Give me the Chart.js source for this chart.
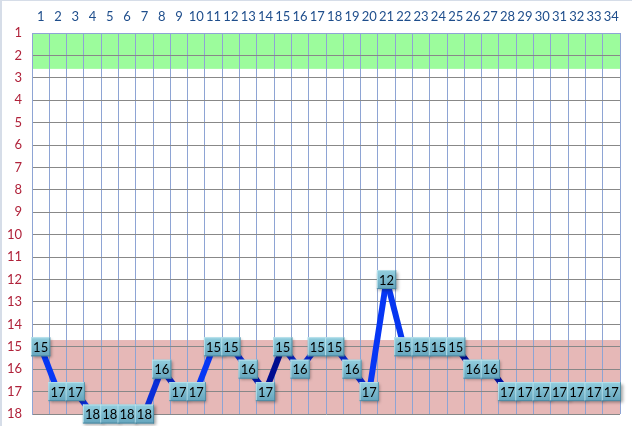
<!DOCTYPE html>
<html>
<head>
<meta charset="utf-8">
<script src="https://cdn.jsdelivr.net/npm/chart.js@4"></script>
<style>
html,body{margin:0;padding:0;background:#fff;}
#wrap{width:632px;height:426px;position:relative;}
</style>
</head>
<body>
<div id="wrap"><canvas id="c" width="632" height="426"></canvas></div>
<script>
// ---- data ----
const categories = ["1","2","3","4","5","6","7","8","9","10","11","12","13","14","15","16","17","18","19","20","21","22","23","24","25","26","27","28","29","30","31","32","33","34"];
const values = [15,17,17,18,18,18,18,16,17,17,15,15,16,17,15,16,15,15,16,17,12,15,15,15,15,16,16,17,17,17,17,17,17,17];
const yTicks = [1,2,3,4,5,6,7,8,9,10,11,12,13,14,15,16,17,18];
const greenBand = [1, 2.6];
const pinkBand = [14.7, 18];

// ---- styles ----
const segColors = ["#0636f5","#0a2fd8","#0a2ee0","#0a2fd8","#0a2fd8","#0a2fd8","#0a2ed8","#0a26c4","#0a2fd8","#0636f5","#0a2fd8","#0a28cc","#0018b0","#000c90","#0a24c0","#0a26c8","#0a2fd8","#0a2ad0","#0a28cc","#0636f5","#0636f0","#0a2fd8","#0a2fd8","#0a2fd8","#000e98","#0a2fd8","#0012a4","#0a2fd8","#0a2fd8","#0a2fd8","#0a2fd8","#0a2fd8","#0a2fd8"];

const bandsPlugin = {
  id: 'bands',
  beforeDraw(chart) {
    const {ctx, chartArea: a, scales: {y}} = chart;
    ctx.save();
    ctx.fillStyle = '#d6dde8';
    ctx.fillRect(0, 0, 2, chart.height);
    ctx.fillRect(0, 0, chart.width, 1);
    const draw = (band, color) => {
      const y1 = y.getPixelForValue(band[0]);
      const y2 = y.getPixelForValue(band[1]);
      ctx.fillStyle = color;
      ctx.fillRect(a.left, Math.min(y1, y2), a.right - a.left, Math.abs(y2 - y1));
    };
    draw(greenBand, '#9cfc9c');
    draw(pinkBand, '#e6b8b7');
    ctx.restore();
  }
};

const labelsPlugin = {
  id: 'boxLabels',
  afterDatasetsDraw(chart) {
    const {ctx} = chart;
    const meta = chart.getDatasetMeta(0);
    const x = chart.scales.x;
    const bw = (x.right - x.left) / categories.length + 2;
    const bh = 19;
    ctx.save();
    meta.data.forEach((pt, i) => {
      const cx = pt.x, cy = pt.y;
      const l = cx - bw / 2, t = cy - bh / 2;
      ctx.save();
      ctx.shadowColor = 'rgba(0,0,0,0.35)';
      ctx.shadowBlur = 3;
      ctx.shadowOffsetX = 1.5;
      ctx.shadowOffsetY = 1.5;
      const g = ctx.createLinearGradient(0, t, 0, t + bh);
      g.addColorStop(0, '#93cfdf');
      g.addColorStop(1, '#65a5bd');
      ctx.fillStyle = g;
      ctx.fillRect(l, t, bw, bh);
      ctx.restore();
      ctx.fillStyle = 'rgba(190,230,240,0.8)';
      ctx.fillRect(l, t, bw, 1);
      ctx.fillRect(l, t, 1, bh);
      ctx.fillStyle = 'rgba(70,130,155,0.8)';
      ctx.fillRect(l + bw - 1, t, 1, bh);
      ctx.fillRect(l, t + bh - 1, bw, 1);
      ctx.fillStyle = '#000';
      ctx.font = '13px Lato, "Liberation Sans", sans-serif';
      ctx.textAlign = 'center';
      ctx.textBaseline = 'middle';
      ctx.fillText(String(values[i]), cx, cy + 1);
    });
    ctx.restore();
  }
};

new Chart(document.getElementById('c'), {
  type: 'line',
  data: {
    labels: categories,
    datasets: [{
      data: values,
      borderColor: '#0a2fd8',
      borderWidth: 6,
      pointRadius: 0,
      tension: 0,
      clip: false,
      segment: { borderColor: c => segColors[c.p0DataIndex] }
    }]
  },
  options: {
    responsive: false,
    animation: false,
    devicePixelRatio: 1,
    layout: { padding: { left: 0, right: 12, top: 0, bottom: 12 } },
    plugins: { legend: { display: false }, tooltip: { enabled: false } },
    scales: {
      x: {
        type: 'category',
        position: 'top',
        offset: true,
        grid: { offset: true, color: '#8ea4d4', lineWidth: 1, drawTicks: false },
        border: { display: true, color: '#8ea4d4' },
        ticks: { color: '#1f4e8c', font: { family: 'Lato, "Liberation Sans", sans-serif', size: 13 }, padding: 8, maxRotation: 0, autoSkip: false },
        afterFit: s => { s.height = 33; s.paddingLeft = 0; s.paddingRight = 0; }
      },
      y: {
        reverse: true,
        min: 1,
        max: 18,
        afterBuildTicks: s => { s.ticks = yTicks.map(v => ({ value: v })); },
        grid: { color: '#888888', lineWidth: 1, drawTicks: false },
        border: { display: true, color: '#8ea4d4' },
        ticks: { color: '#b0223a', font: { family: 'Lato, "Liberation Sans", sans-serif', size: 13 }, padding: 10 },
        afterFit: s => { s.width = 32; s.paddingTop = 0; s.paddingBottom = 0; }
      }
    }
  },
  plugins: [bandsPlugin, labelsPlugin]
});
</script>
</body>
</html>
